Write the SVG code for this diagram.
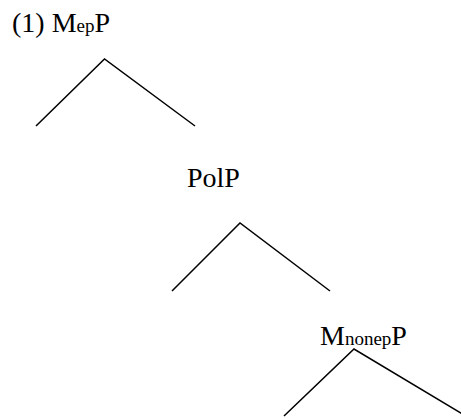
<svg xmlns="http://www.w3.org/2000/svg" width="461" height="418" viewBox="0 0 461 418">
<style>
.t{font-family:"Liberation Serif","Times New Roman",serif;font-size:28px;fill:#000}
.s{font-size:19px}
.e{fill:none;stroke:#000;stroke-width:1.5}
</style>
<rect width="461" height="418" fill="#fff"/>
<g id="n1"><text class="t" x="12" y="32">(1) M<tspan class="s">ep</tspan>P</text></g>
<g id="n2"><text class="t" x="187" y="187">PolP</text></g>
<g id="n3"><text class="t" x="320" y="345">M<tspan class="s">nonep</tspan>P</text></g>
<g id="edges">
<polyline class="e" points="36,126 104.5,59 195,126"/>
<polyline class="e" points="172,291 240,223 330,291"/>
<polyline class="e" points="284,416 354,349 466,416"/>
</g>
</svg>
